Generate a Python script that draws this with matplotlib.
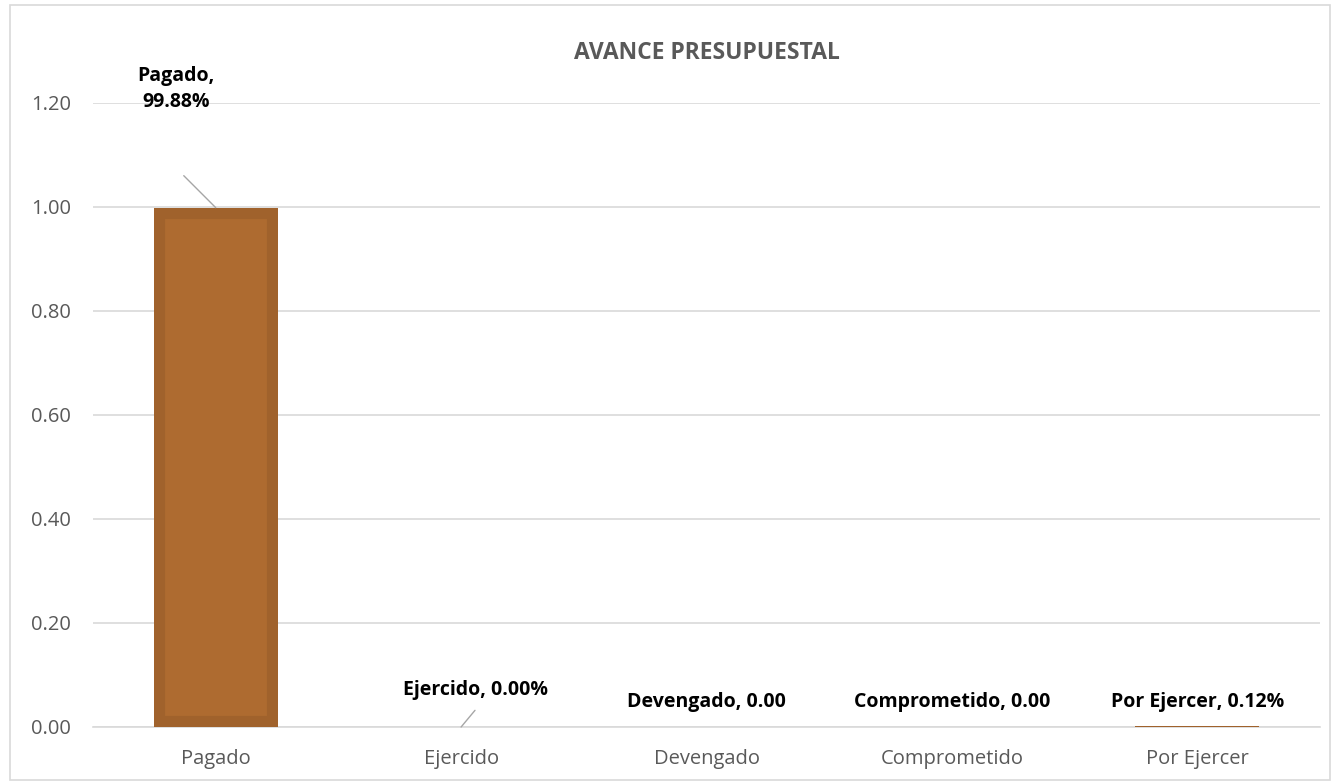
import matplotlib.pyplot as plt
from matplotlib.patches import Rectangle

categories = ["Pagado", "Ejercido", "Devengado", "Comprometido", "Por Ejercer"]
values = [0.9988, 0.0, 0.0, 0.0, 0.0012]
labels = ["Pagado,\n99.88%", "Ejercido, 0.00%", "Devengado, 0.00",
          "Comprometido, 0.00", "Por Ejercer, 0.12%"]
yticks = [0.0, 0.2, 0.4, 0.6, 0.8, 1.0, 1.2]

plt.rcParams["font.family"] = ["Open Sans", "DejaVu Sans"]

fig = plt.figure(figsize=(13.35, 7.84), dpi=100)
ax = fig.add_axes([93 / 1335, 1 - 727 / 784, (1320 - 93) / 1335, (727 - 103) / 784])

# outer chart frame
fig.patches.append(Rectangle((10 / 1335, 4 / 784), 1320 / 1335, 775 / 784,
                             transform=fig.transFigure, fill=False,
                             edgecolor="#D9D9D9", linewidth=1.2))

x = range(len(categories))
bars = ax.bar(x, values, width=0.505, color="#AE6B30", edgecolor="#A0622C",
              linewidth=16, zorder=3)
# keep the thick border inside each bar
for b in bars:
    b.set_clip_path(b)

ax.set_xlim(-0.5, len(categories) - 0.5)
ax.set_ylim(0, 1.2)
ax.set_yticks(yticks)
ax.set_yticklabels([f"{v:.2f}" for v in yticks])
ax.set_xticks(list(x))
ax.set_xticklabels(categories)
ax.tick_params(axis="both", length=0, labelsize=14.5, colors="#595959")
ax.tick_params(axis="x", pad=16)
ax.tick_params(axis="y", pad=16)
ax.grid(axis="y", color="#D9D9D9", linewidth=1.2, zorder=0)
for s in ["top", "right", "left"]:
    ax.spines[s].set_visible(False)
ax.spines["bottom"].set_color("#D9D9D9")
ax.spines["bottom"].set_linewidth(1.2)

ax.set_title("AVANCE PRESUPUESTAL", fontsize=16.5, fontweight="bold",
             color="#595959", pad=32)

lead = dict(arrowstyle="-", color="#A6A6A6", lw=1, shrinkA=0, shrinkB=0)

# data labels
ax.annotate("", xy=(0, values[0]), xytext=(-23, 23), textcoords="offset points",
            arrowprops=lead)
ax.text(-0.162, 1.227, labels[0], ha="center", va="center", fontsize=14,
        fontweight="bold", linespacing=1.45)

ax.annotate("", xy=(1, values[1]), xytext=(10, 12), textcoords="offset points",
            arrowprops=lead)
ax.text(1.06, 0.071, labels[1], ha="center", va="center", fontsize=14,
        fontweight="bold")
for i in [2, 3, 4]:
    ax.text(i, 0.048, labels[i], ha="center", va="center", fontsize=14,
            fontweight="bold")

fig.savefig("out.png", dpi=100)
